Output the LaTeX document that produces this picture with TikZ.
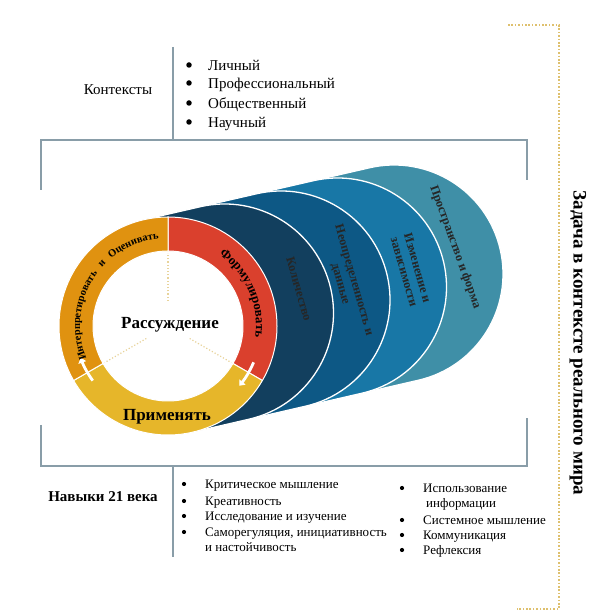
\documentclass[tikz,border=0pt]{standalone}
\usepackage{fontspec}
\setmainfont{Liberation Serif}
\usetikzlibrary{calc, arrows.meta, decorations.text}

\definecolor{framegray}{RGB}{137,157,168}
\definecolor{dotgold}{RGB}{222,192,110}
\definecolor{ringred}{RGB}{218,64,45}
\definecolor{ringorange}{RGB}{224,146,16}
\definecolor{ringyellow}{RGB}{230,182,42}
\definecolor{layerA}{RGB}{18,63,94}
\definecolor{layerB}{RGB}{13,88,133}
\definecolor{layerC}{RGB}{24,119,166}
\definecolor{layerD}{RGB}{63,143,167}

\begin{document}
\begin{tikzpicture} [x = 1pt, y = 1pt,
          frame/.style = {draw = framegray, line width = 1.6},
          bracket/.style = {draw = dotgold, line width = 2, dash pattern = on 1.6 off 1.8},
          label/.style = {inner sep = 0, font = \fontsize{15}{18}\selectfont},
          item/.style = {inner sep = 0, anchor = west, text height = 14, text depth = 3.5,
              font = \fontsize{15}{18}\selectfont},
          skill/.style = {inner sep = 0, anchor = west, text height = 12.5, text depth = 3,
              font = \fontsize{13}{15}\selectfont},
          dot/.style = {circle, fill = black, inner sep = 0, minimum size = 5.5},
          smalldot/.style = {circle, fill = black, inner sep = 0, minimum size = 4.2},
          layer/.style = {draw = white, line width = 1.3},
          segment/.style = {draw = white, line width = 1},
          areatext/.style = {inner sep = 0, align = center, text = black!85,
              font = \bfseries\fontsize{12.5}{14}\selectfont},
          flow/.style = {white, line width = 2.8, -{Triangle[length = 5, width = 8]}}
          ]

          \useasboundingbox (0,0) rectangle (598,615);

          % Frame
          \coordinate (ftl) at (41,475);
          \coordinate (ftr) at (527,475);
          \coordinate (fbl) at (41,149);
          \coordinate (fbr) at (527,149);
          \draw [frame] (41,425) -- (ftl) -- (ftr) -- (527,435);
          \draw [frame] (41,190) -- (fbl) -- (fbr) -- (527,197);
          \coordinate (topend) at (172.7,568);
          \coordinate (topfoot) at (172.7,475);
          \coordinate (botfoot) at (172.7,149);
          \coordinate (botend) at (172.7,58);
          \draw [frame] (topend) -- (topfoot);
          \draw [frame] (botfoot) -- (botend);

          % Dotted bracket
          \coordinate (bra) at (508,590);
          \coordinate (brb) at (559,590);
          \coordinate (brc) at (559,6);
          \coordinate (brd) at (517,6);
          \draw [bracket] (bra) -- (brb) -- (brc) -- (brd);
          \node (task) [inner sep = 0, rotate = -90, font = \bfseries\fontsize{19}{21}\selectfont]
              at (578,272) {Задача в контексте реального мира};

          % Contexts
          \node (ctx) [label] at (118,525) {Контексты};
          \node (b1) [dot] at (189,550) {};
          \node (b2) [dot] at (189,532) {};
          \node (b3) [dot] at (189,512) {};
          \node (b4) [dot] at (189,493) {};
          \node (t1) [item] at (208,550) {Личный};
          \node (t2) [item] at (208,532) {Профессиональный};
          \node (t3) [item] at (208,512) {Общественный};
          \node (t4) [item] at (208,493) {Научный};

          % Layers
          \coordinate (c0) at (168,289);
          \coordinate (c1) at (224.5,302);
          \coordinate (c2) at (281,315);
          \coordinate (c3) at (337.5,328);
          \coordinate (c4) at (394,341);
          \path [layer, fill = layerD] ($(c0)+(103:109)$) -- ($(c4)+(103:109)$)
              arc [start angle = 103, end angle = -77, radius = 109] -- ($(c0)+(-77:109)$) -- cycle;
          \path [layer, fill = layerC] ($(c0)+(103:109)$) -- ($(c3)+(103:109)$)
              arc [start angle = 103, end angle = -77, radius = 109] -- ($(c0)+(-77:109)$) -- cycle;
          \path [layer, fill = layerB] ($(c0)+(103:109)$) -- ($(c2)+(103:109)$)
              arc [start angle = 103, end angle = -77, radius = 109] -- ($(c0)+(-77:109)$) -- cycle;
          \path [layer, fill = layerA] ($(c0)+(103:109)$) -- ($(c1)+(103:109)$)
              arc [start angle = 103, end angle = -77, radius = 109] -- ($(c0)+(-77:109)$) -- cycle;

          \node (space) [areatext, rotate = -70] at (455,368) {Пространство и форма};
          \node (chg) [areatext, rotate = -74] at (411,345) {Изменение и\\зависимости};
          \node (unc) [areatext, rotate = -74] at (347,333) {Неопределенность и\\данные};
          \node (qty) [areatext, rotate = -74] at (299,326) {Количество};

          % Ring
          \fill [white] (c0) circle [radius = 75];
          \path [segment, fill = ringred] ($(c0)+(90:109)$) arc [start angle = 90, end angle = -30, radius = 109]
              -- ($(c0)+(-30:75)$) arc [start angle = -30, end angle = 90, radius = 75] -- cycle;
          \path [segment, fill = ringyellow] ($(c0)+(-30:109)$) arc [start angle = -30, end angle = -150, radius = 109]
              -- ($(c0)+(-150:75)$) arc [start angle = -150, end angle = -30, radius = 75] -- cycle;
          \path [segment, fill = ringorange] ($(c0)+(210:109)$) arc [start angle = 210, end angle = 90, radius = 109]
              -- ($(c0)+(90:75)$) arc [start angle = 90, end angle = 210, radius = 75] -- cycle;

          \draw [dotgold!70, dotted, line width = 1.2] ($(c0)+(90:25)$) -- ($(c0)+(90:73)$);
          \draw [dotgold!70, dotted, line width = 1.2] ($(c0)+(210:25)$) -- ($(c0)+(210:73)$);
          \draw [dotgold!70, dotted, line width = 1.2] ($(c0)+(-30:25)$) -- ($(c0)+(-30:73)$);

          \draw [flow] ($(c0)+(-23:93)$) arc [start angle = -23, end angle = -40, radius = 93];
          \draw [flow] ($(c0)+(216:93)$) arc [start angle = 216, end angle = 200, radius = 93];

          \path [decorate, decoration = {text along path, text align = center,
              text = {|\bfseries\fontsize{13}{13}\selectfont|Формулировать}}]
              ($(c0)+(70:88)$) arc [start angle = 70, end angle = -23, radius = 88];
          \path [decorate, decoration = {text along path, text align = fit to path stretching spaces,
              text = {|\bfseries\fontsize{10.5}{11}\selectfont|Интерпретировать и Оценивать}}]
              ($(c0)+(202:88)$) arc [start angle = 202, end angle = 96, radius = 88];

          \node (reason) [inner sep = 0, font = \bfseries\fontsize{17}{20}\selectfont] at (170,290) {Рассуждение};
          \node (apply) [inner sep = 0, font = \bfseries\fontsize{17}{20}\selectfont] at (167,198) {Применять};

          % Skills
          \node (skills) [label, font = \bfseries\fontsize{15}{18}\selectfont] at (103,118) {Навыки 21 века};
          \node (s1) [smalldot] at (184,131) {};
          \node (s2) [smalldot] at (184,114) {};
          \node (s3) [smalldot] at (184,99) {};
          \node (s4) [smalldot] at (184,83) {};
          \node (k1) [skill] at (205,131) {Критическое мышление};
          \node (k2) [skill] at (205,114) {Креативность};
          \node (k3) [skill] at (205,99) {Исследование и изучение};
          \node (k4) [skill] at (205,83) {Саморегуляция, инициативность};
          \node (k4b) [skill] at (205,68) {и настойчивость};

          \node (s5) [smalldot] at (402,127) {};
          \node (s6) [smalldot] at (402,95) {};
          \node (s7) [smalldot] at (402,80) {};
          \node (s8) [smalldot] at (402,65) {};
          \node (k5) [skill] at (423,127) {Использование};
          \node (k5b) [skill] at (426,112) {информации};
          \node (k6) [skill] at (423,95) {Системное мышление};
          \node (k7) [skill] at (423,80) {Коммуникация};
          \node (k8) [skill] at (423,65) {Рефлексия};

\end{tikzpicture}
\end{document}
